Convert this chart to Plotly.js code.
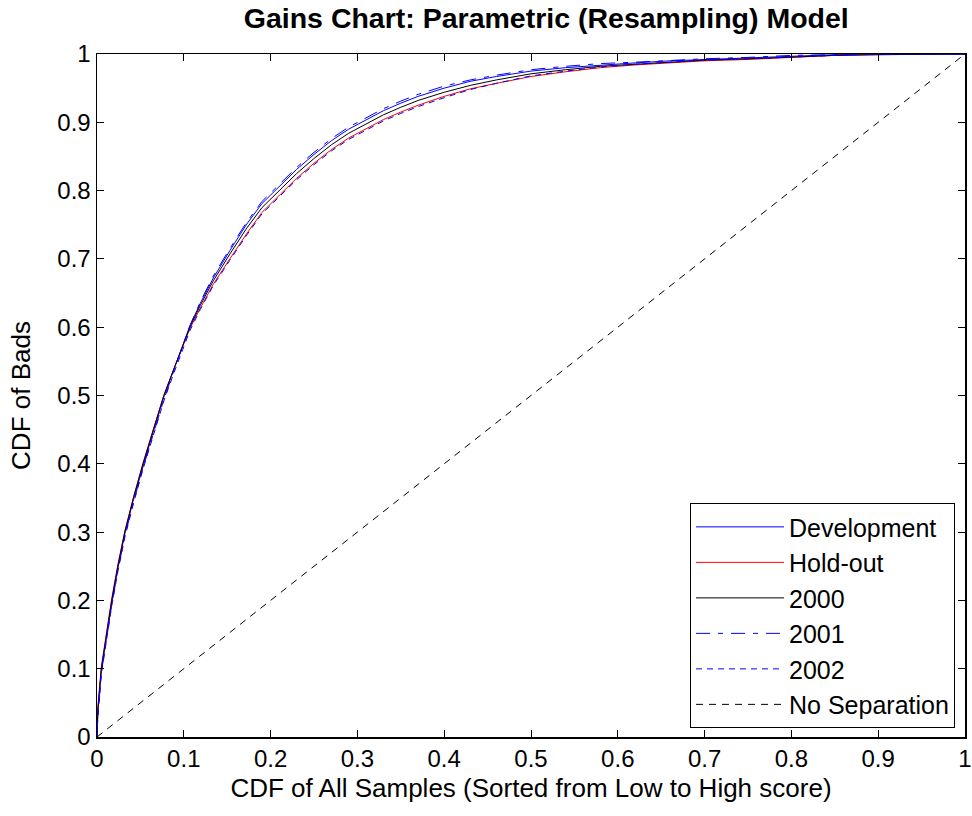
<!DOCTYPE html>
<html>
<head>
<meta charset="utf-8">
<script src="https://cdn.plot.ly/plotly-3.0.1.min.js"></script>
<style>html,body{margin:0;padding:0;background:#fff;}#chart{width:972px;height:816px;}</style>
</head>
<body>
<div id="chart"></div>
<script>
// Shared x grid (CDF of all samples, sorted from low to high score)
const xCdf = [0, 0.001, 0.005, 0.011, 0.017, 0.024, 0.032, 0.042, 0.053, 0.065, 0.077, 0.088, 0.0995, 0.107, 0.119, 0.134, 0.153, 0.1725, 0.19, 0.21, 0.23, 0.25, 0.27, 0.29, 0.31, 0.33, 0.35, 0.37, 0.40, 0.43, 0.46, 0.50, 0.54, 0.58, 0.62, 0.66, 0.70, 0.75, 0.80, 0.85, 0.90, 0.95, 1.0];

// CDF of bads per sample
const yDevelopment = [0, 0.036, 0.097, 0.147, 0.197, 0.247, 0.297, 0.348, 0.397, 0.448, 0.498, 0.537, 0.577, 0.602, 0.635, 0.672, 0.712, 0.751, 0.781, 0.806, 0.831, 0.853, 0.873, 0.890, 0.904, 0.917, 0.928, 0.938, 0.950, 0.960, 0.967, 0.975, 0.980, 0.984, 0.987, 0.990, 0.992, 0.994, 0.997, 0.999, 1.0, 1.0, 1.0];
const yHoldout     = [0, 0.045, 0.103, 0.153, 0.203, 0.252, 0.301, 0.351, 0.401, 0.451, 0.500, 0.537, 0.575, 0.598, 0.628, 0.663, 0.700, 0.737, 0.768, 0.793, 0.818, 0.840, 0.860, 0.877, 0.891, 0.904, 0.915, 0.925, 0.938, 0.949, 0.957, 0.967, 0.974, 0.980, 0.984, 0.987, 0.990, 0.992, 0.995, 0.998, 0.999, 1.0, 1.0];
const y2000        = [0, 0.040, 0.100, 0.150, 0.200, 0.250, 0.300, 0.350, 0.400, 0.450, 0.500, 0.537, 0.576, 0.600, 0.632, 0.668, 0.707, 0.745, 0.775, 0.800, 0.825, 0.847, 0.867, 0.884, 0.898, 0.911, 0.922, 0.932, 0.944, 0.954, 0.962, 0.971, 0.977, 0.982, 0.985, 0.988, 0.991, 0.993, 0.996, 0.998, 0.999, 1.0, 1.0];
const y2001        = [0, 0.032, 0.094, 0.144, 0.194, 0.244, 0.294, 0.344, 0.394, 0.444, 0.494, 0.534, 0.575, 0.602, 0.637, 0.675, 0.715, 0.754, 0.784, 0.809, 0.834, 0.856, 0.876, 0.893, 0.907, 0.920, 0.931, 0.941, 0.953, 0.962, 0.969, 0.977, 0.982, 0.986, 0.988, 0.991, 0.993, 0.995, 0.998, 0.999, 1.0, 1.0, 1.0];
const y2002        = [0, 0.030, 0.092, 0.142, 0.192, 0.242, 0.292, 0.342, 0.392, 0.442, 0.492, 0.531, 0.571, 0.595, 0.626, 0.661, 0.698, 0.735, 0.766, 0.791, 0.816, 0.838, 0.858, 0.875, 0.889, 0.902, 0.913, 0.923, 0.936, 0.948, 0.957, 0.968, 0.975, 0.981, 0.985, 0.988, 0.991, 0.993, 0.996, 0.998, 1.0, 1.0, 1.0];

// Diagonal reference (no separation)
const xDiag = [0, 1];
const yDiag = [0, 1];

const tickVals = [0, 0.1, 0.2, 0.3, 0.4, 0.5, 0.6, 0.7, 0.8, 0.9, 1];
const tickText = ['0', '0.1', '0.2', '0.3', '0.4', '0.5', '0.6', '0.7', '0.8', '0.9', '1'];

const FONT = 'Liberation Sans, Arial, Helvetica, sans-serif';

const traces = [
  {x: xCdf, y: yDevelopment, name: 'Development', mode: 'lines', line: {color: 'rgb(0,0,255)', width: 1}},
  {x: xCdf, y: yHoldout, name: 'Hold-out', mode: 'lines', line: {color: 'rgb(255,0,0)', width: 1}},
  {x: xCdf, y: y2000, name: '2000', mode: 'lines', line: {color: 'rgb(0,0,0)', width: 1}},
  {x: xCdf, y: y2001, name: '2001', mode: 'lines', line: {color: 'rgb(0,0,255)', width: 1, dash: '14px,8px,5px,8px'}},
  {x: xCdf, y: y2002, name: '2002', mode: 'lines', line: {color: 'rgb(0,0,255)', width: 1, dash: '6px,5px'}},
  {x: xDiag, y: yDiag, name: 'No Separation', mode: 'lines', line: {color: 'rgb(0,0,0)', width: 1, dash: '7px,6px'}}
];

const axisCommon = {
  range: [0, 1],
  tickvals: tickVals,
  ticktext: tickText,
  ticks: 'inside',
  ticklen: 7,
  tickcolor: '#000',
  tickwidth: 1,
  showline: true,
  linecolor: '#000',
  linewidth: 1.5,
  mirror: 'ticks',
  showgrid: false,
  zeroline: false,
  tickfont: {family: FONT, size: 24, color: '#000'}
};

const layout = {
  width: 972,
  height: 816,
  margin: {l: 97, r: 7, t: 54, b: 79},
  paper_bgcolor: '#fff',
  plot_bgcolor: '#fff',
  font: {family: FONT, color: '#000'},
  title: {text: '<b>Gains Chart: Parametric (Resampling) Model</b>', font: {family: FONT, size: 28.5, color: '#000'}, x: 0.562, xanchor: 'center', y: 0.978, yanchor: 'middle'},
  xaxis: Object.assign({}, axisCommon, {title: {text: 'CDF of All Samples (Sorted from Low to High score)', font: {family: FONT, size: 26, color: '#000'}, standoff: 7}}),
  yaxis: Object.assign({}, axisCommon, {title: {text: 'CDF of Bads', font: {family: FONT, size: 26, color: '#000'}, standoff: 19}}),
  showlegend: true,
  legend: {
    x: 0.9885, xanchor: 'right', y: 0.013, yanchor: 'bottom',
    bgcolor: '#fff', bordercolor: '#000', borderwidth: 1,
    font: {family: FONT, size: 25, color: '#000'},
    itemwidth: 88,
    tracegroupgap: 0
  }
};

Plotly.newPlot('chart', traces, layout, {displayModeBar: false, staticPlot: true});
</script>
</body>
</html>
